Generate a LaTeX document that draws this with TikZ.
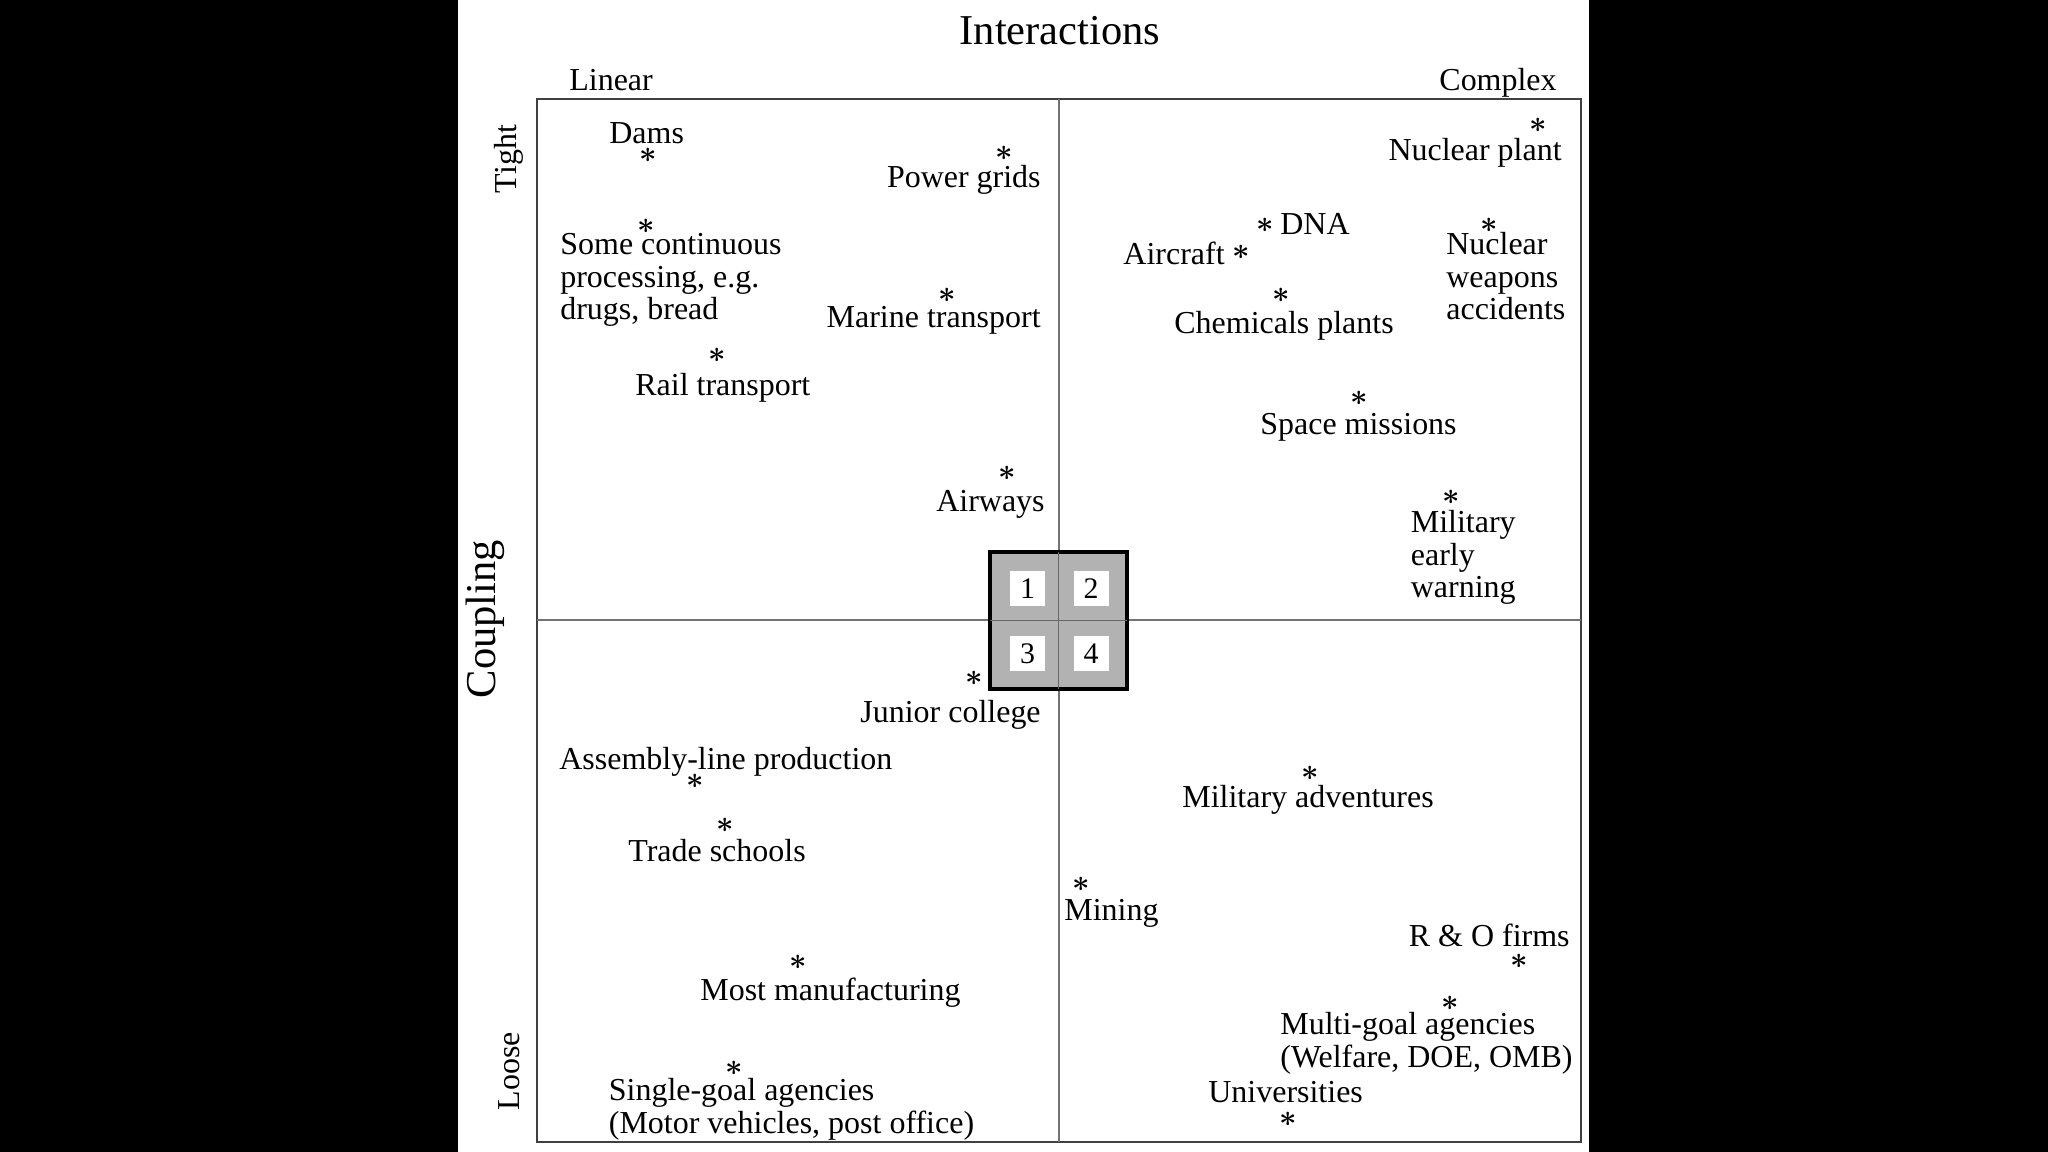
\documentclass[tikz,border=0pt]{standalone}
\usepackage{fontspec}
\setmainfont{Liberation Serif}
\usetikzlibrary{positioning}

\begin{document}
\begin{tikzpicture}[x=0.02cm,y=-0.02cm,
    lbl/.style={inner sep=0pt,align=left,font=\fontsize{18.2}{18.4}\selectfont},
    head/.style={inner sep=0pt,font=\fontsize{24.2}{26}\selectfont},
    ast/.style={inner sep=0pt,font=\fontsize{17}{17}\selectfont\boldmath},
    frameline/.style={draw=black!75,line width=1.4pt},
    midline/.style={draw=black!55,line width=1.1pt},
    numbox/.style={fill=white,minimum size=0.7cm,inner sep=0pt,font=\fontsize{17}{17}\selectfont}
]
\useasboundingbox (0,0) rectangle (2048,1152);
\fill[black] (0,0) rectangle (2048,1152);
\fill[white] (458,0) rectangle (1589,1152);

\draw[frameline] (537,99) rectangle (1581,1142);
\draw[midline] (1059,99) -- (1059,1142);
\draw[midline] (537,620) -- (1581,620);

\draw[fill=black!30,line width=2.3pt] (990,552) rectangle (1127,689);
\draw[draw=black!60,line width=1.1pt] (1058.5,552) -- (1058.5,689);
\draw[draw=black!60,line width=1.1pt] (990,620.5) -- (1127,620.5);
\node[numbox] (q1) at (1027.5,588.5) {1};
\node[numbox] (q2) at (1091,588.5) {2};
\node[numbox] (q3) at (1027.5,653.5) {3};
\node[numbox] (q4) at (1091,653.5) {4};

\node[head,anchor=base] (title) at (1060,45) {Interactions};
\node[lbl,anchor=base west] (linear) at (569,91) {Linear};
\node[lbl,anchor=base east] (complex) at (1557,91) {Complex};
\node[lbl,rotate=90] (tight) at (509,159) {Tight};
\node[head,rotate=90] (coupling) at (485,619) {Coupling};
\node[lbl,rotate=90] (loose) at (509,1071) {Loose};

\node[lbl,anchor=base west] (dams) at (609,144) {Dams};
\node[ast] (damsA) at (648,155) {$\ast$};
\node[lbl,anchor=base east] (power) at (1041,188) {Power grids};
\node[ast] (powerA) at (1004,153) {$\ast$};
\node[lbl,anchor=base west] (contin) at (560,319.5) {Some continuous\\processing, e.g.\\drugs, bread};
\node[ast] (continA) at (646.5,226) {$\ast$};
\node[lbl,anchor=base east] (marine) at (1041,327) {Marine transport};
\node[ast] (marineA) at (947,295) {$\ast$};
\node[lbl,anchor=base west] (rail) at (635,395) {Rail transport};
\node[ast] (railA) at (717,355) {$\ast$};
\node[lbl,anchor=base east] (airways) at (1045,511) {Airways};
\node[ast] (airwaysA) at (1007,473) {$\ast$};

\node[lbl,anchor=base east] (nuclear) at (1562,161) {Nuclear plant};
\node[ast] (nuclearA) at (1538.5,125) {$\ast$};
\node[lbl,anchor=base west] (dna) at (1280,235) {DNA};
\node[ast] (dnaA) at (1265.5,225) {$\ast$};
\node[lbl,anchor=base east] (aircraft) at (1225,264) {Aircraft};
\node[ast] (aircraftA) at (1241,252) {$\ast$};
\node[lbl,anchor=base west] (chem) at (1174,333) {Chemicals plants};
\node[ast] (chemA) at (1281,295) {$\ast$};
\node[lbl,anchor=base west] (weapons) at (1446,319.5) {Nuclear\\weapons\\accidents};
\node[ast] (weaponsA) at (1489,225) {$\ast$};
\node[lbl,anchor=base west] (space) at (1260,434) {Space missions};
\node[ast] (spaceA) at (1359.5,398) {$\ast$};
\node[lbl,anchor=base west] (warning) at (1410.5,597.5) {Military\\early\\warning};
\node[ast] (warningA) at (1451,497.5) {$\ast$};

\node[lbl,anchor=base east] (junior) at (1041,722.5) {Junior college};
\node[ast] (juniorA) at (974,678) {$\ast$};
\node[lbl,anchor=base west] (assembly) at (559,769.5) {Assembly-line production};
\node[ast] (assemblyA) at (695,781) {$\ast$};
\node[lbl,anchor=base west] (trade) at (628,861) {Trade schools};
\node[ast] (tradeA) at (725,825) {$\ast$};
\node[lbl,anchor=base west] (manuf) at (700,1000.5) {Most manufacturing};
\node[ast] (manufA) at (798,962.5) {$\ast$};
\node[lbl,anchor=base west] (single) at (608.5,1133) {Single-goal agencies\\(Motor vehicles, post office)};
\node[ast] (singleA) at (734,1068) {$\ast$};

\node[lbl,anchor=base west] (adventures) at (1182,807) {Military adventures};
\node[ast] (adventuresA) at (1310,773) {$\ast$};
\node[lbl,anchor=base west] (mining) at (1064,920) {Mining};
\node[ast] (miningA) at (1081,884) {$\ast$};
\node[lbl,anchor=base east] (firms) at (1570,946) {R \& O firms};
\node[ast] (firmsA) at (1519,961) {$\ast$};
\node[lbl,anchor=base west] (multi) at (1280,1067) {Multi-goal agencies\\(Welfare, DOE, OMB)};
\node[ast] (multiA) at (1450,1003) {$\ast$};
\node[lbl,anchor=base west] (univ) at (1208,1102.5) {Universities};
\node[ast] (univA) at (1288,1119) {$\ast$};
\end{tikzpicture}
\end{document}
